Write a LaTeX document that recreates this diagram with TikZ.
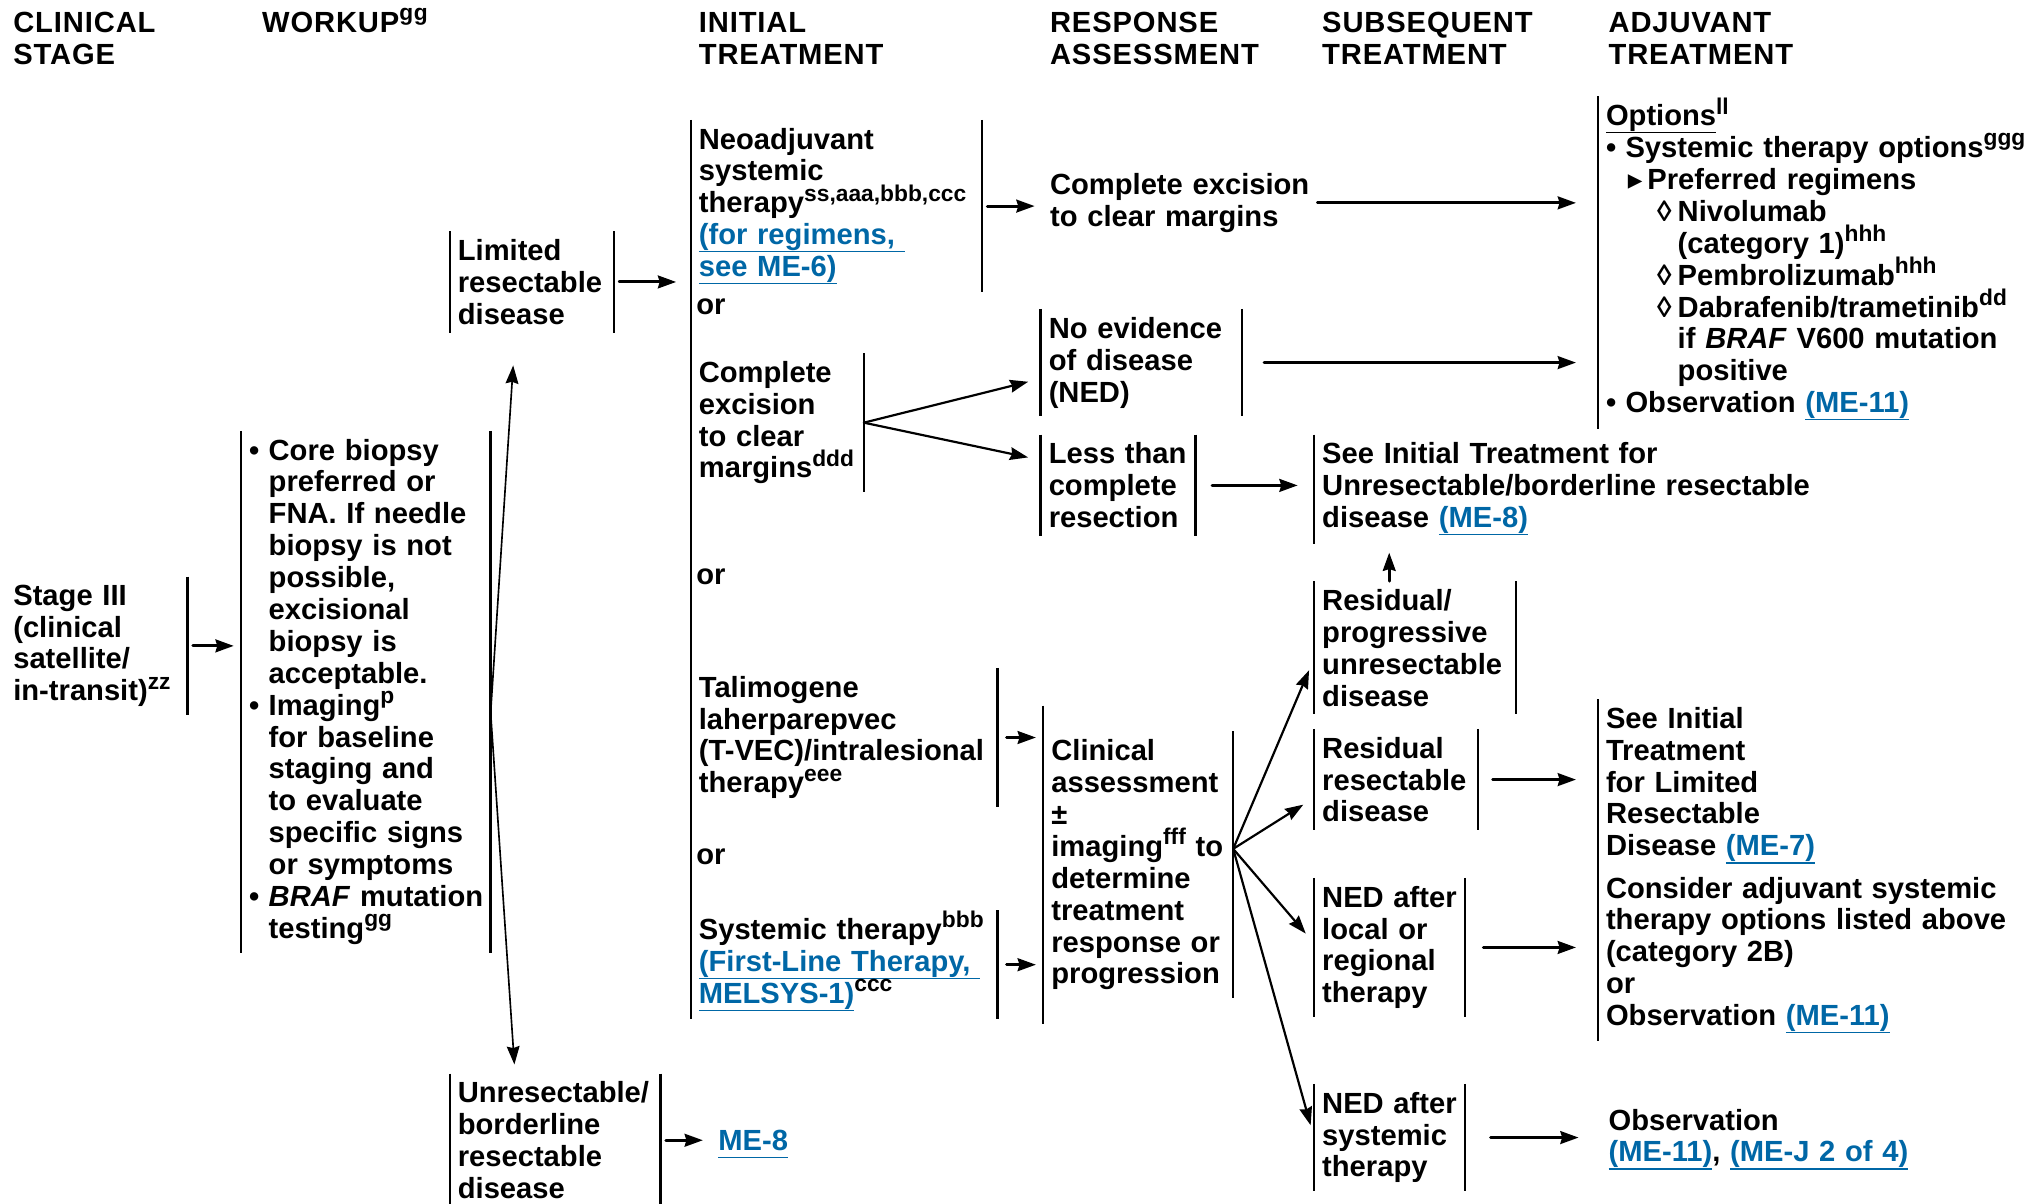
\documentclass[tikz,border=0pt]{standalone}
\usepackage{fontspec}
\setmainfont{Liberation Sans}
\newfontfamily\djv{DejaVu Sans}
\usetikzlibrary{arrows.meta}
\usetikzlibrary{calc}

\definecolor{linkblue}{RGB}{0,103,166}
\newcommand{\undl}[1]{\setbox0\hbox{#1}\rlap{\rule[-4.2pt]{\wd0}{0.8pt}}\box0}
\newcommand{\lnk}[1]{\textcolor{linkblue}{\undl{#1}}}
\newcommand{\sps}[1]{\raisebox{0.4em}[0pt][0pt]{\fontsize{12.5pt}{12.5pt}\selectfont #1}}
\newcommand{\bul}{\makebox[0.67em][l]{\textbullet}}
\newcommand{\ind}{\hspace*{0.67em}}
\newcommand{\tri}{\hspace*{0.75em}\makebox[0.67em][l]{{\djv ▸}}}
\newcommand{\loz}{\hspace*{1.75em}\makebox[0.71em][l]{◊}}
\newcommand{\lozind}{\hspace*{2.46em}}

\begin{document}
\begin{tikzpicture}[x=0.025cm,y=-0.025cm,line cap=round,line join=round,
    >={Stealth[length=10pt,width=7pt,inset=1pt]},
    every node/.style={font=\fontsize{16pt}{17.5pt}\selectfont\bfseries,
      anchor=base west,align=left,inner xsep=0.15cm,inner ysep=0.15cm},
    head/.style={font=\fontsize{16pt}{17.5pt}\selectfont\bfseries\addfontfeature{LetterSpace=3}},
    vbar/.style={line width=1.3pt,line cap=butt},
    lbar/.style={append after command={(\tikzlastnode.north west) edge[vbar] (\tikzlastnode.south west)}},
    rbar/.style={append after command={(\tikzlastnode.north east) edge[vbar] (\tikzlastnode.south east)}},
    arr/.style={->,line width=1.6pt,shorten <=3pt,shorten >=4pt},
    longarr/.style={arr,shorten >=12pt},
    fanarr/.style={->,line width=1.2pt,shorten >=7pt},
    thinarr/.style={->,line width=0.9pt}]
  \useasboundingbox (0,0) rectangle (1568,929);

  % column heads
  \node[head,text width=4cm] (hstage) at (4,25) {CLINICAL\\STAGE};
  \node[head,text width=4cm] (hwork) at (196,25) {WORKUP\sps{gg}};
  \node[head,text width=5cm] (hinit) at (533,25) {INITIAL\\TREATMENT};
  \node[head,text width=5cm] (hresp) at (804,25) {RESPONSE\\ASSESSMENT};
  \node[head,text width=5cm] (hsub) at (1014,25) {SUBSEQUENT\\TREATMENT};
  \node[head,text width=5cm] (hadj) at (1235,25) {ADJUVANT\\TREATMENT};

  % stage and workup
  \node[rbar,text width=3.2cm] (stage) at (4,467) {Stage III\\(clinical\\satellite/\\in-transit)\sps{zz}};
  \node[lbar,rbar,text width=4.5cm] (workup) at (186,355) {\bul Core biopsy\\
    \ind preferred or\\ \ind FNA. If needle\\ \ind biopsy is not\\ \ind possible,\\
    \ind excisional\\ \ind biopsy is\\ \ind acceptable.\\
    \bul Imaging\sps{p}\\ \ind for baseline\\ \ind staging and\\ \ind to evaluate\\
    \ind specific signs\\ \ind or symptoms\\
    \bul\mbox{\textit{BRAF} mutation}\\ \ind testing\sps{gg}};
  \node[lbar,rbar,text width=2.85cm] (limited) at (347,201) {Limited\\resectable\\disease};
  \node[lbar,rbar,text width=3.75cm] (unres) at (347,851) {Unresectable/\\borderline\\resectable\\disease};
  \node[text width=2cm] (me8) at (548,888) {\lnk{ME-8}};

  % initial treatment
  \node[rbar,text width=5.3cm] (neo) at (533,115) {Neoadjuvant\\systemic\\therapy\sps{ss,aaa,bbb,ccc}\\
    \lnk{(for regimens,\ }\\\lnk{see ME-6)}};
  \node[text width=1cm] (or1) at (531,243) {or};
  \node[rbar,text width=3.025cm] (ce) at (533,295) {Complete\\excision\\to clear\\margins\sps{ddd}};
  \node[text width=1cm] (or2) at (531,451) {or};
  \node[rbar,text width=5.6cm] (tal) at (533,538) {Talimogene\\laherparepvec\\(T-VEC)/intralesional\\therapy\sps{eee}};
  \node[text width=1cm] (or3) at (531,667) {or};
  \node[rbar,text width=5.6cm] (sys) at (533,725) {Systemic therapy\sps{bbb}\\
    \lnk{(First-Line Therapy,\ }\\\lnk{MELSYS-1)}\sps{ccc}};
  \draw[vbar] (neo.north west) -- (neo.west |- sys.south);

  % response assessment
  \node[text width=5cm] (respce) at (804,150) {Complete excision\\to clear margins};
  \node[lbar,rbar,text width=3.575cm] (ned) at (803,261) {No evidence\\of disease\\(NED)};
  \node[lbar,rbar,text width=2.675cm] (less) at (803,358) {Less than\\complete\\resection};
  \node[lbar,rbar,text width=3.35cm] (cla) at (805,587) {Clinical\\assessment\\±\\imaging\sps{fff} to\\
    determine\\treatment\\response or\\progression};
  \draw[vbar] ($(cla.north west)+(0,-20)$) -- ($(cla.south west)+(0,20)$);

  % subsequent treatment
  \node[lbar,text width=9.5cm] (seeu) at (1014,358) {See Initial Treatment for\\
    Unresectable/borderline resectable\\disease \lnk{(ME-8)}};
  \node[lbar,rbar,text width=3.575cm] (rp) at (1014,471) {Residual/\\progressive\\unresectable\\disease};
  \node[lbar,rbar,text width=2.85cm] (rr) at (1014,585) {Residual\\resectable\\disease};
  \node[lbar,rbar,text width=2.6cm] (nedl) at (1014,700) {NED after\\local or\\regional\\therapy};
  \node[lbar,rbar,text width=2.6cm] (neds) at (1014,859) {NED after\\systemic\\therapy};

  % adjuvant treatment
  \node[lbar,text width=8.3cm] (opt) at (1233,97) {\undl{Options}\sps{ll}\\
    \bul Systemic therapy options\sps{ggg}\\
    \tri Preferred regimens\\
    \loz Nivolumab\\ \lozind (category 1)\sps{hhh}\\
    \loz Pembrolizumab\sps{hhh}\\
    \loz Dabrafenib/trametinib\sps{dd}\\ \lozind if \textit{BRAF} V600 mutation\\ \lozind positive\\
    \bul Observation \lnk{(ME-11)}};
  \node[lbar,text width=5cm] (seel) at (1233,562) {See Initial\\Treatment\\for Limited\\Resectable\\Disease \lnk{(ME-7)}};
  \node[lbar,text width=8cm] (cons) at (1233,693) {Consider adjuvant systemic\\therapy options listed above\\
    (category 2B)\\or\\Observation \lnk{(ME-11)}};
  \node[text width=6cm] (obs) at (1235,872) {Observation\\\lnk{(ME-11)}, \lnk{(ME-J 2 of 4)}};

  % connectors
  \coordinate (wk) at ($(workup.north east)!0.54!(workup.south east)$);
  \coordinate (fan) at ($(cla.north east)!0.44!(cla.south east)$);
  \coordinate (rpt) at ($(rp.north west)+(58,0)$);

  \draw[arr] (stage.east) -- (stage.east -| workup.west);
  \draw[thinarr,shorten >=18pt] (wk) -- ($(limited.south west)!0.4!(limited.south east)$);
  \draw[thinarr,shorten >=5pt] (wk) -- ($(unres.north west)!0.31!(unres.north east)$);
  \draw[arr,shorten >=8pt] (limited.east) -- (limited.east -| neo.west);
  \draw[arr] (unres.east) -- (unres.east -| me8.west);
  \draw[arr] (neo.east) -- (neo.east -| respce.west);
  \draw[longarr,shorten <=0pt] (respce.east) -- (respce.east -| opt.west);
  \draw[fanarr] (ce.east) -- ($(ned.north west)!0.65!(ned.south west)$);
  \draw[fanarr] (ce.east) -- ($(less.north west)!0.25!(less.south west)$);
  \draw[longarr,shorten <=12pt] (ned.east) -- (ned.east -| opt.west);
  \draw[arr,shorten <=9pt,shorten >=9pt] (less.east) -- (less.east -| seeu.west);
  \draw[arr,shorten <=0pt,shorten >=5pt] (rpt) -- (rpt |- seeu.south);
  \draw[arr,shorten <=5pt] (tal.east) -- (tal.east -| cla.west);
  \draw[arr,shorten <=5pt] (sys.east) -- (sys.east -| cla.west);
  \draw[fanarr] (fan) -- ($(rp.north west)!0.58!(rp.south west)$);
  \draw[fanarr] (fan) -- ($(rr.north west)!0.68!(rr.south west)$);
  \draw[fanarr] (fan) -- ($(nedl.north west)!0.47!(nedl.south west)$);
  \draw[fanarr] (fan) -- ($(neds.north west)!0.5!(neds.south west)$);
  \draw[longarr,shorten <=8pt] (rr.east) -- (rr.east -| seel.west);
  \draw[longarr,shorten <=10pt] (nedl.east) -- (nedl.east -| cons.west);
  \draw[longarr,shorten <=14pt] (neds.east) -- (neds.east -| obs.west);
\end{tikzpicture}
\end{document}
